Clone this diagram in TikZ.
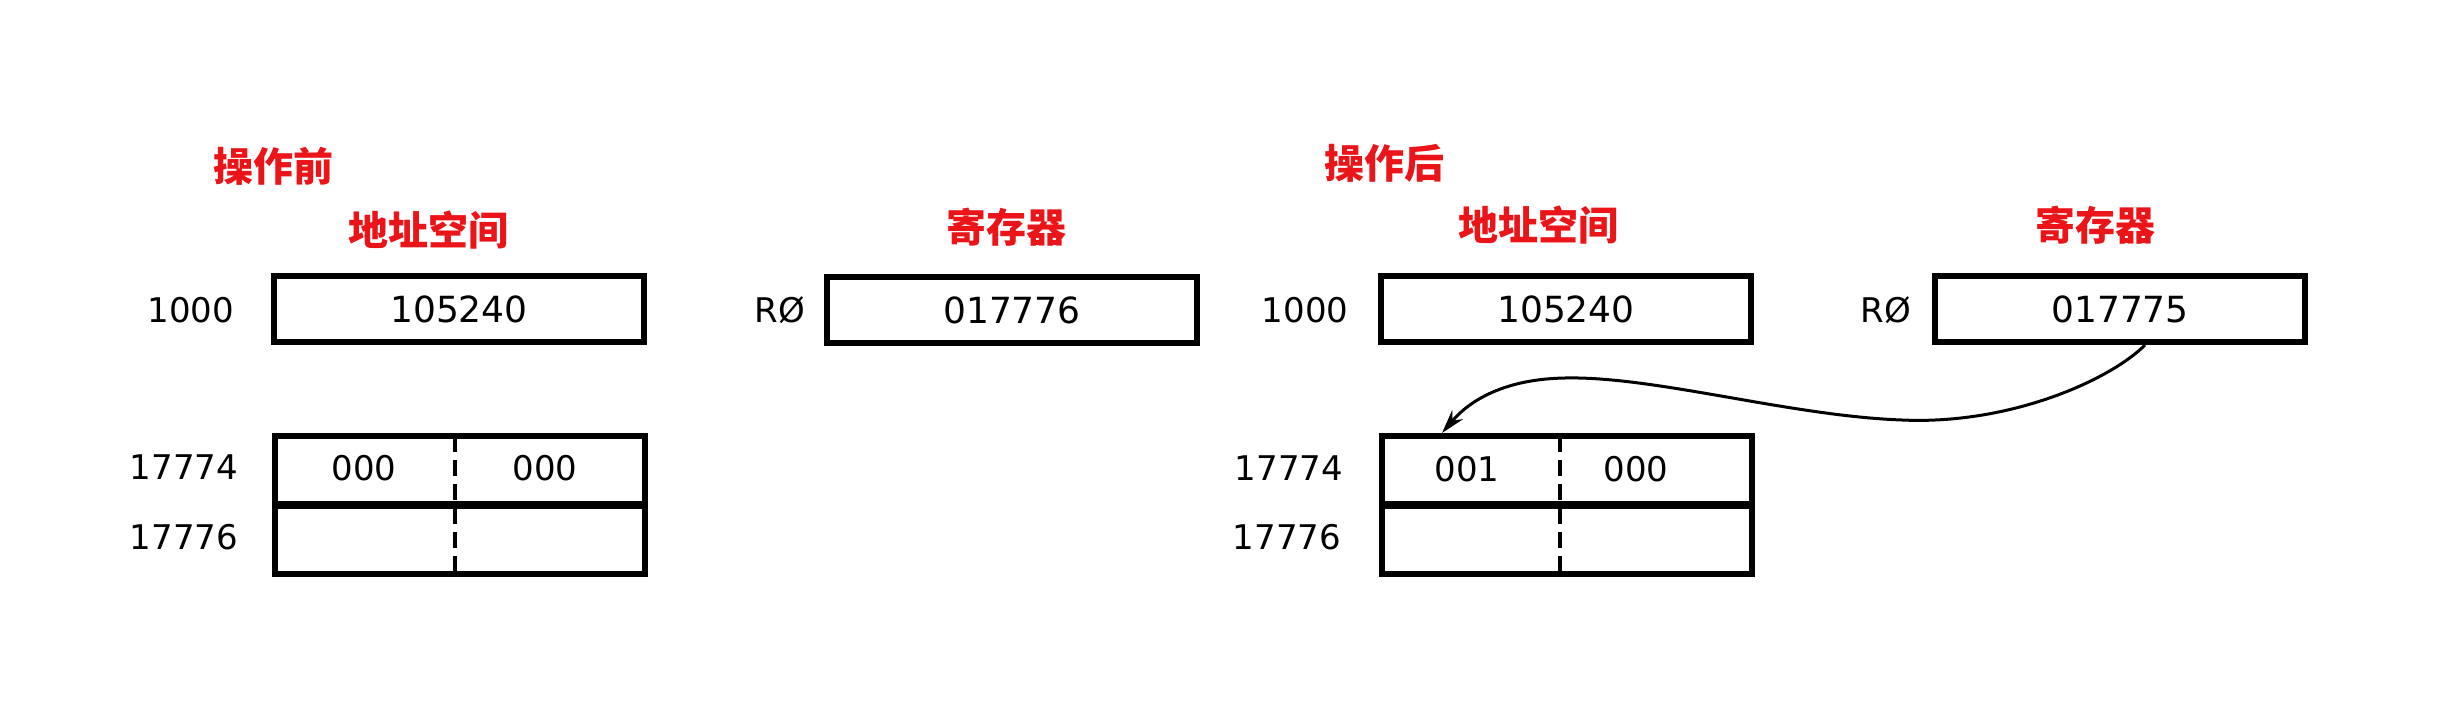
\documentclass[tikz,border=0pt]{standalone}
\usepackage{fontspec}
\setmainfont{DejaVu Sans}
\newfontfamily\cjk{Noto Sans CJK SC}
\usetikzlibrary{arrows.meta}
\definecolor{cred}{RGB}{235,20,25}
\begin{document}
\begin{tikzpicture}[x=0.5pt,y=-0.5pt,
  box/.style={draw, line width=3pt, inner sep=0pt, minimum width=185pt, minimum height=33pt, font=\fontsize{18}{20}\selectfont},
  rowbox/.style={draw, line width=3pt, inner sep=0pt, minimum width=185pt, minimum height=34pt},
  num/.style={font=\fontsize{17}{20}\selectfont, inner sep=0pt},
  title/.style={font=\cjk\bfseries\fontsize{20}{22}\selectfont, text=cred, inner sep=0pt},
  divider/.style={line width=1.6pt, dash pattern=on 8pt off 4pt},
  link/.style={line width=1.5pt, -{Stealth[length=12pt,width=7pt]}}]
\useasboundingbox (0,0) rectangle (2440,722);
% ---------- before ----------
\node[title] (tBefore) at (273,166) {操作前};
\node[title] (tAddrL) at (428,230) {地址空间};
\node[title] (tRegL) at (1006,227) {寄存器};
\node[box] (m1000L) at (459,309) {105240};
\node[num] (l1000L) at (191,310) {1000};
\node[box] (r0L) at (1012,310) {017776};
\node[num] (lr0L) at (780,310) {RØ};
\node[rowbox] (rowL1) at (460,470) {};
\node[rowbox] (rowL2) at (460,540) {};
\coordinate (dLt) at (455,436);
\coordinate (dLb) at (455,574);
\draw[divider] (dLt) -- (dLb);
\node[num] (vL1) at (364,468) {000};
\node[num] (vL2) at (545,468) {000};
\node[num] (l17774L) at (184,467) {17774};
\node[num] (l17776L) at (184,537) {17776};
% ---------- after ----------
\node[title] (tAfter) at (1384,163) {操作后};
\node[title] (tAddrR) at (1538,225) {地址空间};
\node[title] (tRegR) at (2095,225) {寄存器};
\node[box] (m1000R) at (1566,309) {105240};
\node[num] (l1000R) at (1305,310) {1000};
\node[box] (r0R) at (2120,309) {017775};
\node[num] (lr0R) at (1886,310) {RØ};
\node[rowbox] (rowR1) at (1567,470) {};
\node[rowbox] (rowR2) at (1567,540) {};
\coordinate (dRt) at (1560,436);
\coordinate (dRb) at (1560,574);
\draw[divider] (dRt) -- (dRb);
\node[num] (vR1) at (1467,469) {001};
\node[num] (vR2) at (1636,469) {000};
\node[num] (l17774R) at (1289,468) {17774};
\node[num] (l17776R) at (1287,537) {17776};
% ---------- pointer ----------
\draw[link] ([xshift=12.5pt]r0R.south) .. controls (2110,380) and (2010,425) .. (1902,420)
  .. controls (1790,416) and (1655,376) .. (1565,378)
  .. controls (1505,379) and (1470,400) .. ([xshift=-62.5pt]rowR1.north);
\end{tikzpicture}
\end{document}
